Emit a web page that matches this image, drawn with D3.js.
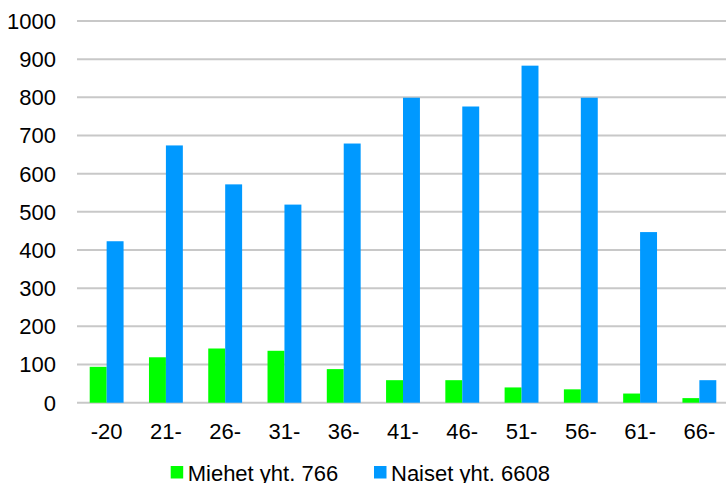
<!DOCTYPE html>
<html>
<head>
<meta charset="utf-8">
<script src="https://cdn.jsdelivr.net/npm/d3@7"></script>
<style>
  html, body { margin: 0; padding: 0; background: #fff; }
  svg { display: block; font-family: "Liberation Sans", Arial, sans-serif; }
</style>
</head>
<body>
<svg id="chart" width="726" height="483"></svg>
<script>
const categories = ["-20", "21-", "26-", "31-", "36-", "41-", "46-", "51-", "56-", "61-", "66-"];
const seriesNames = ["Miehet yht. 766", "Naiset yht. 6608"];
const miehet = [94, 119, 142, 136, 88, 59, 59, 40, 35, 24, 12];
const naiset = [423, 674, 572, 519, 679, 799, 776, 883, 799, 447, 59];
const yTicks = [0, 100, 200, 300, 400, 500, 600, 700, 800, 900, 1000];
const colors = ["#00FF00", "#0099FF"];

const svg = d3.select("#chart");
const plotLeft = 77, plotRight = 729, plotTop = 21, plotBottom = 402.7;

const y = d3.scaleLinear().domain([0, 1000]).range([plotBottom, plotTop]);
const x0 = d3.scaleBand().domain(categories).range([plotLeft, plotRight]).padding(0);
const x1 = d3.scaleBand().domain([0, 1]).range([0, x0.bandwidth()]).paddingInner(0).paddingOuter(0.75);

// gridlines
svg.append("g").selectAll("line").data(yTicks).join("line")
  .attr("x1", plotLeft).attr("x2", 726)
  .attr("y1", d => y(d)).attr("y2", d => y(d))
  .attr("stroke", "#c8c8c8").attr("stroke-width", 2);

// y labels
svg.append("g").selectAll("text").data(yTicks).join("text")
  .attr("x", 56).attr("y", d => y(d) + 7.9)
  .attr("text-anchor", "end").attr("font-size", 22).attr("fill", "#000")
  .text(d => d);

// bars
const data = [miehet, naiset];
data.forEach((vals, si) => {
  svg.append("g").selectAll("rect").data(vals).join("rect")
    .attr("x", (d, i) => x0(categories[i]) + x1(si))
    .attr("width", x1.bandwidth())
    .attr("y", d => y(d))
    .attr("height", d => y(0) - y(d))
    .attr("fill", colors[si]);
});

// x labels
svg.append("g").selectAll("text").data(categories).join("text")
  .attr("x", d => x0(d) + x0.bandwidth() / 2)
  .attr("y", 439)
  .attr("text-anchor", "middle").attr("font-size", 22).attr("fill", "#000")
  .text(d => d);

// legend
const legendX = [170.7, 374];
const lg = svg.append("g");
seriesNames.forEach((name, i) => {
  lg.append("rect").attr("x", legendX[i]).attr("y", 466).attr("width", 12.5).attr("height", 12.5).attr("fill", colors[i]);
  lg.append("text").attr("x", legendX[i] + 17).attr("y", 481)
    .attr("font-size", 22).attr("fill", "#000").text(name);
});
</script>
</body>
</html>
